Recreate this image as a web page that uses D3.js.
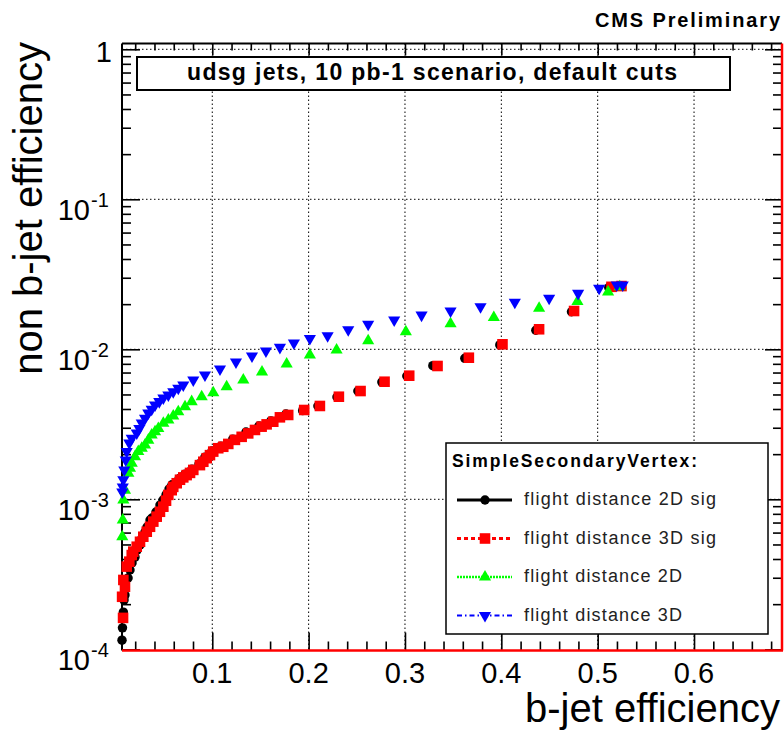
<!DOCTYPE html>
<html>
<head>
<meta charset="utf-8">
<script src="https://d3js.org/d3.v7.min.js"></script>
<style>
  body { margin: 0; background: #fff; }
  text { font-family: "Liberation Sans", Arial, Helvetica, sans-serif; }
</style>
</head>
<body>
<div id="chart"></div>
<script>
// b-jet efficiency (x) vs non b-jet efficiency (y)
var fd2dSigX = [0.0063, 0.0068, 0.0077, 0.0084, 0.0094, 0.0126, 0.0146, 0.0167, 0.0198, 0.0219, 0.025, 0.0271, 0.0302, 0.0323, 0.0354, 0.0374, 0.0416, 0.0457, 0.0489, 0.052, 0.0551, 0.0582, 0.0655, 0.0717, 0.0789, 0.0862, 0.0924, 0.0997, 0.1089, 0.1213, 0.135, 0.1484, 0.1609, 0.1765, 0.1938, 0.2096, 0.2294, 0.2511, 0.276, 0.3019, 0.3289, 0.3621, 0.3984, 0.4358, 0.4728, 0.5115, 0.5229];
var fd2dSigY = [1.15e-4, 1.39e-4, 1.77e-4, 2.13e-4, 2.30e-4, 2.99e-4, 3.38e-4, 3.76e-4, 4.12e-4, 4.59e-4, 4.96e-4, 5.52e-4, 6.05e-4, 6.53e-4, 7.28e-4, 7.50e-4, 8.22e-4, 9.16e-4, 9.89e-4, 1.07e-3, 1.17e-3, 1.25e-3, 1.37e-3, 1.47e-3, 1.59e-3, 1.72e-3, 1.91e-3, 2.10e-3, 2.26e-3, 2.52e-3, 2.81e-3, 3.08e-3, 3.33e-3, 3.70e-3, 3.90e-3, 4.19e-3, 4.81e-3, 5.27e-3, 6.05e-3, 6.64e-3, 7.78e-3, 8.71e-3, 0.0107, 0.0134, 0.0178, 0.0258, 0.0264];

var fd3dSigX = [0.0064, 0.0074, 0.0077, 0.0094, 0.0112, 0.0139, 0.0164, 0.018, 0.0216, 0.025, 0.0284, 0.032, 0.0354, 0.0388, 0.0423, 0.0457, 0.0492, 0.052, 0.0544, 0.0579, 0.0595, 0.0631, 0.0665, 0.0699, 0.0734, 0.0769, 0.0803, 0.0872, 0.0907, 0.0942, 0.0976, 0.101, 0.1062, 0.1114, 0.1166, 0.1235, 0.1305, 0.1373, 0.1443, 0.1512, 0.1564, 0.1633, 0.1702, 0.1788, 0.1954, 0.2117, 0.2314, 0.2539, 0.2788, 0.3044, 0.3338, 0.3663, 0.4012, 0.4392, 0.4755, 0.5143, 0.5247];
var fd3dSigY = [2.24e-4, 1.62e-4, 2.90e-4, 2.61e-4, 3.56e-4, 3.84e-4, 4.25e-4, 4.48e-4, 4.83e-4, 5.21e-4, 5.63e-4, 6.08e-4, 6.56e-4, 7.10e-4, 7.66e-4, 8.26e-4, 8.93e-4, 9.79e-4, 1.07e-3, 1.15e-3, 1.21e-3, 1.28e-3, 1.35e-3, 1.40e-3, 1.45e-3, 1.50e-3, 1.57e-3, 1.69e-3, 1.78e-3, 1.88e-3, 1.97e-3, 2.08e-3, 2.19e-3, 2.24e-3, 2.34e-3, 2.49e-3, 2.61e-3, 2.75e-3, 2.90e-3, 3.05e-3, 3.16e-3, 3.29e-3, 3.52e-3, 3.65e-3, 3.94e-3, 4.19e-3, 4.83e-3, 5.27e-3, 6.08e-3, 6.67e-3, 7.74e-3, 8.79e-3, 0.0108, 0.0136, 0.0180, 0.0261, 0.0264];

var fd2dX = [0.0066, 0.0071, 0.0077, 0.0094, 0.0129, 0.0146, 0.0164, 0.0198, 0.0232, 0.0268, 0.0302, 0.0336, 0.0371, 0.0406, 0.044, 0.0492, 0.0544, 0.0595, 0.0647, 0.0717, 0.0786, 0.089, 0.101, 0.1149, 0.1322, 0.1516, 0.1772, 0.2013, 0.229, 0.2618, 0.3009, 0.3473, 0.3922, 0.4392, 0.479, 0.5108, 0.5229];
var fd2dY = [5.63e-4, 7.28e-4, 9.9e-4, 1.15e-3, 1.49e-3, 1.61e-3, 1.74e-3, 1.92e-3, 2.08e-3, 2.19e-3, 2.30e-3, 2.48e-3, 2.68e-3, 2.82e-3, 2.97e-3, 3.21e-3, 3.38e-3, 3.59e-3, 3.84e-3, 4.14e-3, 4.48e-3, 4.83e-3, 5.14e-3, 5.63e-3, 6.24e-3, 7.06e-3, 7.98e-3, 9.16e-3, 9.89e-3, 0.0114, 0.0131, 0.0148, 0.0163, 0.0188, 0.0208, 0.0241, 0.0261];

var fd3dX = [0.0066, 0.0071, 0.0077, 0.0087, 0.0102, 0.0112, 0.0139, 0.0164, 0.0216, 0.0243, 0.0268, 0.0302, 0.0336, 0.0371, 0.0406, 0.045, 0.0492, 0.0544, 0.0595, 0.0647, 0.0699, 0.0803, 0.0924, 0.108, 0.1246, 0.1412, 0.1557, 0.1702, 0.1847, 0.2013, 0.2197, 0.2411, 0.2618, 0.2888, 0.3172, 0.3473, 0.3784, 0.414, 0.4496, 0.4797, 0.5015, 0.5198, 0.526];
var fd3dY = [1.12e-3, 1.21e-3, 1.35e-3, 1.57e-3, 1.83e-3, 2.08e-3, 2.37e-3, 2.55e-3, 2.77e-3, 2.97e-3, 3.23e-3, 3.47e-3, 3.76e-3, 3.98e-3, 4.25e-3, 4.48e-3, 4.73e-3, 4.96e-3, 5.22e-3, 5.50e-3, 5.78e-3, 6.24e-3, 6.74e-3, 7.39e-3, 8.22e-3, 9.02e-3, 9.75e-3, 0.0103, 0.0110, 0.0118, 0.0123, 0.0135, 0.0147, 0.0157, 0.0169, 0.0180, 0.0192, 0.0206, 0.0219, 0.0236, 0.0255, 0.0268, 0.0268];

var seriesNames = ["flight distance 2D sig", "flight distance 3D sig", "flight distance 2D", "flight distance 3D"];
var xMajorTicks = [0.1, 0.2, 0.3, 0.4, 0.5, 0.6];
var xTickLabels = ["0.1", "0.2", "0.3", "0.4", "0.5", "0.6"];
var yDecades = [1, 0.1, 0.01, 0.001, 0.0001];
var yTickExponents = ["", "-1", "-2", "-3", "-4"];

var svgWidth = 784;
var svgHeight = 733;

// plot frame in pixels
var frame = { left: 122, right: 782, top: 43.5, bottom: 650.5 };

var svg = d3.select("#chart")
  .append("svg")
  .attr("width", svgWidth)
  .attr("height", svgHeight);

var xScale = d3.scaleLinear()
  .domain([0.0063, 0.6913])
  .range([frame.left, frame.right]);

var yScale = d3.scaleLog()
  .domain([9.82e-5, 1.093])
  .range([frame.bottom, frame.top]);

// minor ticks
var xMinorTicks = d3.range(1, 35).map(d => d * 0.02).filter(d => Math.abs(d * 10 - Math.round(d * 10)) > 1e-6);
var yMinorTicks = [];
yDecades.slice(1).forEach(function (dec) {
  for (var k = 2; k <= 9; k++) {
    var v = dec * k;
    if (v < yScale.domain()[1]) yMinorTicks.push(v);
  }
});

// grid
var grid = svg.append("g")
  .attr("stroke", "#000")
  .attr("stroke-width", 1)
  .attr("stroke-dasharray", "1.5,2.5");

grid.selectAll("line.vgrid")
  .data(xMajorTicks)
  .enter()
  .append("line")
  .attr("class", "vgrid")
  .attr("x1", d => xScale(d))
  .attr("x2", d => xScale(d))
  .attr("y1", frame.top)
  .attr("y2", frame.bottom);

grid.selectAll("line.hgrid")
  .data(yDecades.slice(0, 4))
  .enter()
  .append("line")
  .attr("class", "hgrid")
  .attr("x1", frame.left)
  .attr("x2", frame.right)
  .attr("y1", d => yScale(d))
  .attr("y2", d => yScale(d));

// axes ticks (inward, ROOT style)
function noDomain(g) {
  g.select(".domain").remove();
  g.selectAll(".tick line").attr("stroke", "#000").attr("stroke-width", 1.6);
}

svg.append("g")
  .attr("transform", `translate(0, ${frame.bottom})`)
  .call(d3.axisBottom(xScale).tickValues(xMajorTicks).tickSize(-18).tickFormat(""))
  .call(noDomain);
svg.append("g")
  .attr("transform", `translate(0, ${frame.bottom})`)
  .call(d3.axisBottom(xScale).tickValues(xMinorTicks).tickSize(-9).tickFormat(""))
  .call(noDomain);

svg.append("g")
  .attr("transform", `translate(0, ${frame.top})`)
  .call(d3.axisTop(xScale).tickValues(xMajorTicks).tickSize(-12).tickFormat(""))
  .call(noDomain);
svg.append("g")
  .attr("transform", `translate(0, ${frame.top})`)
  .call(d3.axisTop(xScale).tickValues(xMinorTicks).tickSize(-7).tickFormat(""))
  .call(noDomain);

svg.append("g")
  .attr("transform", `translate(${frame.left}, 0)`)
  .call(d3.axisLeft(yScale).tickValues(yDecades).tickSize(-18).tickFormat(""))
  .call(noDomain);
svg.append("g")
  .attr("transform", `translate(${frame.left}, 0)`)
  .call(d3.axisLeft(yScale).tickValues(yMinorTicks).tickSize(-9).tickFormat(""))
  .call(noDomain);

svg.append("g")
  .attr("transform", `translate(${frame.right}, 0)`)
  .call(d3.axisRight(yScale).tickValues(yDecades).tickSize(-17).tickFormat(""))
  .call(noDomain);
svg.append("g")
  .attr("transform", `translate(${frame.right}, 0)`)
  .call(d3.axisRight(yScale).tickValues(yMinorTicks).tickSize(-9).tickFormat(""))
  .call(noDomain);

// frame
svg.append("line").attr("x1", frame.left).attr("x2", frame.right).attr("y1", frame.top).attr("y2", frame.top)
  .attr("stroke", "#000").attr("stroke-width", 2);
svg.append("line").attr("x1", frame.left).attr("x2", frame.left).attr("y1", frame.top).attr("y2", frame.bottom)
  .attr("stroke", "#000").attr("stroke-width", 2);
svg.append("line").attr("x1", frame.left).attr("x2", frame.right + 1).attr("y1", frame.bottom).attr("y2", frame.bottom)
  .attr("stroke", "#ff0000").attr("stroke-width", 2.5);
svg.append("line").attr("x1", frame.right).attr("x2", frame.right).attr("y1", frame.top).attr("y2", frame.bottom)
  .attr("stroke", "#ff0000").attr("stroke-width", 2.5);

// tick labels
svg.append("g")
  .selectAll("text")
  .data(xMajorTicks)
  .enter()
  .append("text")
  .attr("x", d => xScale(d))
  .attr("y", 683)
  .attr("text-anchor", "middle")
  .attr("font-size", "29px")
  .attr("fill", "#000")
  .text((d, i) => xTickLabels[i]);

var yLabels = svg.append("g").selectAll("g")
  .data(yDecades)
  .enter()
  .append("g");

yLabels.each(function (d, i) {
  var g = d3.select(this);
  var ty = yScale(d);
  if (yTickExponents[i] === "") {
    g.append("text")
      .attr("x", 112)
      .attr("y", ty + 13)
      .attr("text-anchor", "end")
      .attr("font-size", "29px")
      .text("1");
  } else {
    g.append("text")
      .attr("x", 90)
      .attr("y", ty + 21)
      .attr("text-anchor", "end")
      .attr("font-size", "29px")
      .text("10");
    g.append("text")
      .attr("x", 91)
      .attr("y", ty + 8)
      .attr("font-size", "20px")
      .text(yTickExponents[i]);
  }
});

// axis titles
svg.append("text")
  .attr("x", 780)
  .attr("y", 722)
  .attr("text-anchor", "end")
  .attr("font-size", "40px")
  .text("b-jet efficiency");

svg.append("text")
  .attr("transform", "translate(42, 42) rotate(-90)")
  .attr("text-anchor", "end")
  .attr("font-size", "40px")
  .text("non b-jet efficiency");

svg.append("text")
  .attr("x", 780)
  .attr("y", 27)
  .attr("text-anchor", "end")
  .attr("font-size", "20px")
  .attr("font-weight", "bold")
  .attr("textLength", 185)
  .attr("lengthAdjust", "spacing")
  .text("CMS Preliminary");

// title box
svg.append("rect")
  .attr("x", 137).attr("y", 57).attr("width", 593).attr("height", 33)
  .attr("fill", "#fff").attr("stroke", "#000").attr("stroke-width", 2);
svg.append("text")
  .attr("x", 432)
  .attr("y", 80)
  .attr("text-anchor", "middle")
  .attr("font-size", "23px")
  .attr("font-weight", "bold")
  .attr("textLength", 490)
  .attr("lengthAdjust", "spacing")
  .text("udsg jets, 10 pb-1 scenario, default cuts");

// series styles
var styles = [
  { color: "#000000", symbol: d3.symbolCircle, size: 70, rotate: 0, dash: null, width: 3 },
  { color: "#ff0000", symbol: d3.symbolSquare, size: 112, rotate: 0, dash: "4,3", width: 3 },
  { color: "#00ff00", symbol: d3.symbolTriangle, size: 64, rotate: 0, dash: "2,1", width: 2.5 },
  { color: "#0000ff", symbol: d3.symbolTriangle, size: 64, rotate: 180, dash: "5,3,1.5,3", width: 2 }
];
var seriesX = [fd2dSigX, fd3dSigX, fd2dX, fd3dX];
var seriesY = [fd2dSigY, fd3dSigY, fd2dY, fd3dY];

// points
seriesX.forEach(function (xs, s) {
  var st = styles[s];
  var pts = xs.map((x, i) => ({ x: x, y: seriesY[s][i] }));
  svg.append("g")
    .selectAll("path")
    .data(pts)
    .enter()
    .append("path")
    .attr("d", d3.symbol().type(st.symbol).size(st.size))
    .attr("transform", d => `translate(${xScale(d.x)}, ${yScale(d.y)}) rotate(${st.rotate})`)
    .attr("fill", st.color);
});

// legend
var legend = svg.append("g");
legend.append("rect")
  .attr("x", 446).attr("y", 443).attr("width", 322).attr("height", 191)
  .attr("fill", "#fff").attr("stroke", "#000").attr("stroke-width", 1.5);
legend.append("text")
  .attr("x", 452)
  .attr("y", 467)
  .attr("font-size", "17.5px")
  .attr("font-weight", "bold")
  .attr("textLength", 245)
  .attr("lengthAdjust", "spacing")
  .text("SimpleSecondaryVertex:");

var entryY = [505, 543.5, 582, 620.5];
var entryLen = [192, 192, 158, 158];
seriesNames.forEach(function (name, i) {
  var st = styles[i];
  var ly = entryY[i] - 5;
  legend.append("line")
    .attr("x1", 457).attr("x2", 512).attr("y1", ly).attr("y2", ly)
    .attr("stroke", st.color).attr("stroke-width", st.width)
    .attr("stroke-dasharray", st.dash);
  legend.append("path")
    .attr("d", d3.symbol().type(st.symbol).size(st.size))
    .attr("transform", `translate(485, ${ly}) rotate(${st.rotate})`)
    .attr("fill", st.color);
  legend.append("text")
    .attr("x", 524)
    .attr("y", entryY[i])
    .attr("font-size", "18px")
    .attr("fill", "#222")
    .attr("textLength", entryLen[i])
    .attr("lengthAdjust", "spacing")
    .text(name);
});
</script>
</body>
</html>
